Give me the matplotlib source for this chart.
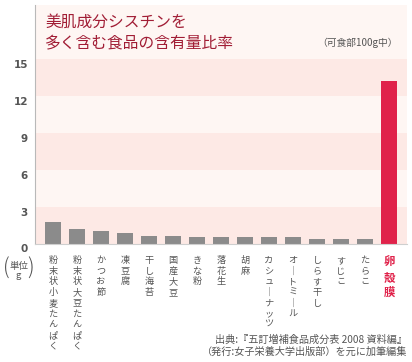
import matplotlib
matplotlib.use("Agg")
import matplotlib.pyplot as plt
import matplotlib.transforms as mtransforms

plt.rcParams['font.family'] = ['Noto Sans CJK JP', 'DejaVu Sans']

# data
foods = ['粉末状小麦たんぱく', '粉末状大豆たんぱく', 'かつお節', '凍豆腐', '干し海苔',
         '国産大豆', 'きな粉', '落花生', '胡麻', 'カシューナッツ', 'オートミール',
         'しらす干し', 'すじこ', 'たらこ', '卵殻膜']
values = [1.74, 1.14, 0.98, 0.82, 0.65, 0.57, 0.52, 0.49, 0.49, 0.49, 0.49,
          0.38, 0.38, 0.38, 13.2]
yticks = [0, 3, 6, 9, 12, 15]
highlight = '卵殻膜'

W, H = 412, 362
fig = plt.figure(figsize=(W / 100, H / 100), dpi=100)
fig.patch.set_facecolor('white')

# axes box in pixels: x 35..407, y 5..243.5 (from top)
ax = fig.add_axes([35 / W, (H - 243.5) / H, 372 / W, 238.5 / H])
ax.set_facecolor('#fef6f3')
ax.set_xlim(-0.75, len(foods) - 0.25)
ax.set_ylim(0, 19.42)

for lo in (0, 6, 12):
    ax.axhspan(lo, lo + 3, color='#fde9e5', lw=0, zorder=0)

x = list(range(len(foods)))
colors = ['#e0224a' if f == highlight else '#8b8b8b' for f in foods]
ax.bar(x, values, width=0.667, color=colors, zorder=2)

for s in ('top', 'right'):
    ax.spines[s].set_visible(False)
ax.spines['left'].set_color('#b9b9b9')
ax.spines['left'].set_linewidth(0.8)
ax.spines['bottom'].set_color('#cfcfcf')
ax.spines['bottom'].set_linewidth(0.8)

ax.set_xticks([])
ax.set_yticks(yticks)
ax.set_yticklabels([str(v) for v in yticks], fontsize=7.5, fontweight='bold',
                   color='#555555', family='DejaVu Sans')
ax.tick_params(axis='y', length=0, pad=5)
off = mtransforms.ScaledTranslation(0, -3.5 / 72, fig.dpi_scale_trans)
for lab in ax.get_yticklabels():
    lab.set_transform(lab.get_transform() + off)

# vertical category labels
xt = ax.get_xaxis_transform()
for xi, name in zip(x, foods):
    txt = '\n'.join(name.replace('ー', '｜'))
    if name == highlight:
        ax.text(xi, -0.052, txt, transform=xt, ha='center', va='top',
                fontsize=8.2, color='#e0224a', fontweight='bold', linespacing=1.2)
    else:
        ax.text(xi, -0.052, txt, transform=xt, ha='center', va='top',
                fontsize=6.6, color='#555555', linespacing=1.24)

# unit label
fig.text(18.5 / W, 1 - 266 / H, '単位', ha='center', va='center', fontsize=6.8, color='#555555')
fig.text(18.5 / W, 1 - 275 / H, 'g', ha='center', va='center', fontsize=6.8, color='#555555')
fig.text(6 / W, 1 - 269 / H, '(', ha='center', va='center', fontsize=15,
         color='#555555', fontweight='light')
fig.text(31 / W, 1 - 269 / H, ')', ha='center', va='center', fontsize=15,
         color='#555555', fontweight='light')

# title
fig.text(45 / W, 1 - 22 / H, '美肌成分シスチンを', ha='left', va='center',
         fontsize=11.3, color='#a11d35')
fig.text(45 / W, 1 - 43 / H, '多く含む食品の含有量比率', ha='left', va='center',
         fontsize=11.3, color='#a11d35')
fig.text(398 / W, 1 - 43 / H, '（可食部100g中）', ha='right', va='center',
         fontsize=7, color='#555555')

# source
fig.text(407 / W, 1 - 340 / H, '出典:『五訂増補食品成分表 2008 資料編』', ha='right',
         va='center', fontsize=7.3, color='#555555')
fig.text(407 / W, 1 - 352 / H, '（発行:女子栄養大学出版部）を元に加筆編集', ha='right',
         va='center', fontsize=7.3, color='#555555')

fig.savefig('out.png', dpi=100)
